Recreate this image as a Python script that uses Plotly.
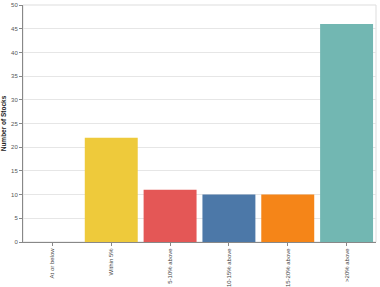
import plotly.graph_objects as go

categories = ["At or below", "Within 5%", "5-10% above", "10-15% above", "15-20% above", ">20% above"]
counts = [0, 22, 11, 10, 10, 46]
colors = ["rgba(0,0,0,0)", "#EECA3B", "#E45756", "#4C78A8", "#F58518", "#72B7B2"]
y_ticks = [0, 5, 10, 15, 20, 25, 30, 35, 40, 45, 50]

fig = go.Figure(go.Bar(x=categories, y=counts, marker=dict(color=colors, line=dict(width=0)), showlegend=False))

font = "Liberation Sans, Arial, sans-serif"
fig.update_layout(
    width=380, height=287,
    margin=dict(l=23, r=4, t=5, b=45),
    paper_bgcolor="white", plot_bgcolor="white",
    bargap=0.1,
    font=dict(family=font, size=6, color="#555"),
    shapes=[dict(type="rect", xref="paper", yref="paper", x0=0, x1=1, y0=0, y1=1,
                 line=dict(color="#ddd", width=1), layer="below")],
)
fig.update_xaxes(
    type="category", tickangle=-90, showline=True, linecolor="#888", linewidth=1,
    ticks="outside", ticklen=3, tickcolor="#888", showgrid=False, automargin=False,
    tickfont=dict(size=6, color="#444"),
)
fig.update_yaxes(
    range=[0, 50], tickvals=y_ticks, showline=True, linecolor="#888", linewidth=1,
    ticks="outside", ticklen=3, tickcolor="#888", showgrid=True, gridcolor="#e6e6e6", gridwidth=1,
    zeroline=False, tickfont=dict(size=6, color="#555"), automargin=False,
    title=dict(text="<b>Number of Stocks</b>", font=dict(size=6.5, color="#222"), standoff=4),
)
fig.write_html("out.html")
